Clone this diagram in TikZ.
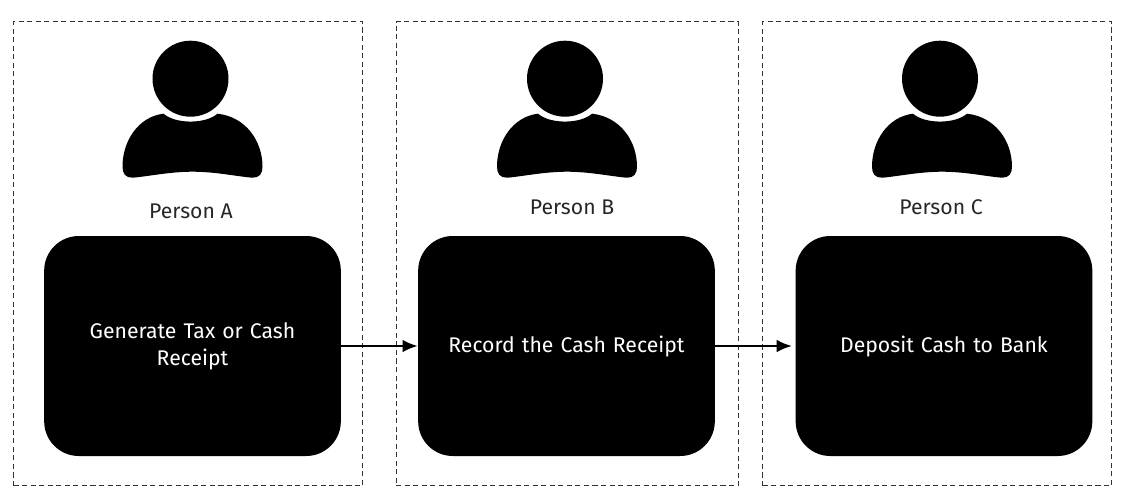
\documentclass[tikz,border=0pt]{standalone}
\usepackage{fontspec}
\setmainfont{Fira Sans}
\usetikzlibrary{arrows.meta}
\tikzset{
  lane/.style={draw=black!80,line width=1pt,dash pattern=on 3.8pt off 2.6pt,inner sep=0,anchor=north west},
  taskbox/.style={fill=black,text=white,rounded corners=26pt,inner sep=0,minimum width=222.5pt,minimum height=165pt,align=center,text width=200pt,font=\fontsize{15.9}{20}\selectfont},
  flow/.style={line width=1.9pt,-{Latex[length=11.5pt,width=9.5pt]}},
  who/.style={font=\fontsize{15.9}{18}\selectfont,text=black!85}
}
\newcommand{\personicon}[2]{%
  \begin{scope}[shift={(#1,#2)}]
    \fill[black] (0,0) circle[radius=38];
    \fill[black] (-27,35)
      .. controls (-15,45.5) and (15,45.5) .. (27,35)
      .. controls (55,38) and (72,62) .. (72,88)
      .. controls (72,95) and (69,99) .. (62,99)
      .. controls (48,98) and (25,93) .. (2,93)
      .. controls (-21,93) and (-44,98) .. (-58,99)
      .. controls (-65,99) and (-68,95) .. (-68,88)
      .. controls (-68,62) and (-52,38) .. (-27,35) -- cycle;
  \end{scope}}
\begin{document}
\begin{tikzpicture}[x=0.75pt,y=-0.75pt]
\useasboundingbox (0,0) rectangle (1129,500);
\node[lane,minimum width=261.75pt,minimum height=348pt] (laneA) at (13,21) {};
\node[lane,minimum width=256.5pt,minimum height=348pt] (laneB) at (395.5,21) {};
\node[lane,minimum width=261.75pt,minimum height=348pt] (laneC) at (762,21) {};
\personicon{190.5}{78.7}
\personicon{565}{78.7}
\personicon{940}{78.7}
\node[who] (pa) at (191,211) {Person A};
\node[who] (pb) at (572,207) {Person B};
\node[who] (pc) at (941,207) {Person C};
\node[taskbox] (t1) at (192.5,346) {\raisebox{-3pt}{Generate Tax or Cash}\\\raisebox{-3pt}{Receipt}};
\node[taskbox] (t2) at (566.5,346) {\raisebox{-3pt}{Record the Cash Receipt}};
\node[taskbox] (t3) at (944,346) {\raisebox{-3pt}{Deposit Cash to Bank}};
\draw[flow] (t1) -- (t2);
\draw[flow,shorten >=2.5pt] (t2) -- (t3);
\end{tikzpicture}
\end{document}
